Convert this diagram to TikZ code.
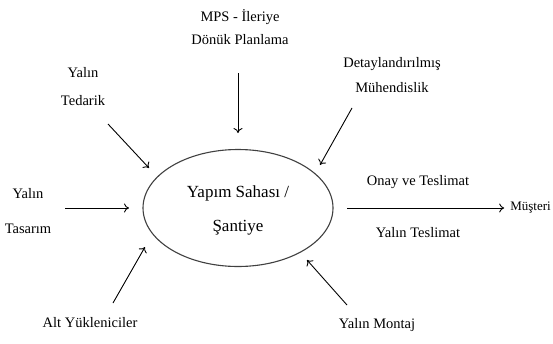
\documentclass[tikz,border=0pt]{standalone}
\usepackage{fontspec}
\setmainfont{Liberation Serif}
\usetikzlibrary{arrows.meta,shapes.geometric}
\begin{document}
\begin{tikzpicture}[x=1pt,y=1pt,
  arr/.style={-{To[length=5pt,width=9pt]}, line width=0.9pt},
  lbl/.style={font=\fontsize{14.5}{16}\selectfont, align=center, inner sep=0pt}]
\useasboundingbox (0,0) rectangle (553,-343);
\node[draw=black!75, line width=1.1pt, ellipse, minimum width=190pt, minimum height=117pt, inner sep=0pt] (site) at (238,-208) {};
\node[font=\fontsize{17}{34}\selectfont, align=center, inner sep=0pt] (sitetxt) at (238,-210) {Yapım Sahası /\\Şantiye};

\node[lbl, font=\fontsize{14.5}{23}\selectfont] (mps) at (240,-27) {MPS - İleriye\\Dönük Planlama};
\node[lbl, font=\fontsize{14.5}{28}\selectfont] (ted) at (83,-87) {Yalın\\Tedarik};
\node[lbl, font=\fontsize{14.5}{25}\selectfont] (det) at (392,-75) {Detaylandırılmış\\Mühendislik};
\node[lbl, font=\fontsize{14.5}{35}\selectfont] (tas) at (28,-211) {Yalın\\Tasarım};
\node[lbl] (alt) at (90,-323) {Alt Yükleniciler};
\node[lbl] (mon) at (377,-325) {Yalın Montaj};
\node[lbl] (onay) at (418,-182) {Onay ve Teslimat};
\node[lbl] (ytes) at (418,-233) {Yalın Teslimat};
\node[lbl, font=\fontsize{13}{15}\selectfont, anchor=east] (mus) at (551,-208) {Müşteri};

\coordinate (mpsA) at (238,-73);  \coordinate (mpsB) at (238,-133);
\coordinate (tedA) at (108,-124); \coordinate (tedB) at (149,-168);
\coordinate (detA) at (352,-108); \coordinate (detB) at (320,-165);
\coordinate (tasA) at (65,-208);  \coordinate (tasB) at (129,-208);
\coordinate (altA) at (113,-303); \coordinate (altB) at (145,-247);
\coordinate (monA) at (347,-305); \coordinate (monB) at (307,-260);
\coordinate (outA) at (347,-208);

\draw[arr] (mpsA) -- (mpsB);
\draw[arr] (tedA) -- (tedB);
\draw[arr] (detA) -- (detB);
\draw[arr] (tasA) -- (tasB);
\draw[arr] (altA) -- (altB);
\draw[arr] (monA) -- (monB);
\draw[arr] (outA) -- ([xshift=-6pt]mus.west);
\end{tikzpicture}
\end{document}
